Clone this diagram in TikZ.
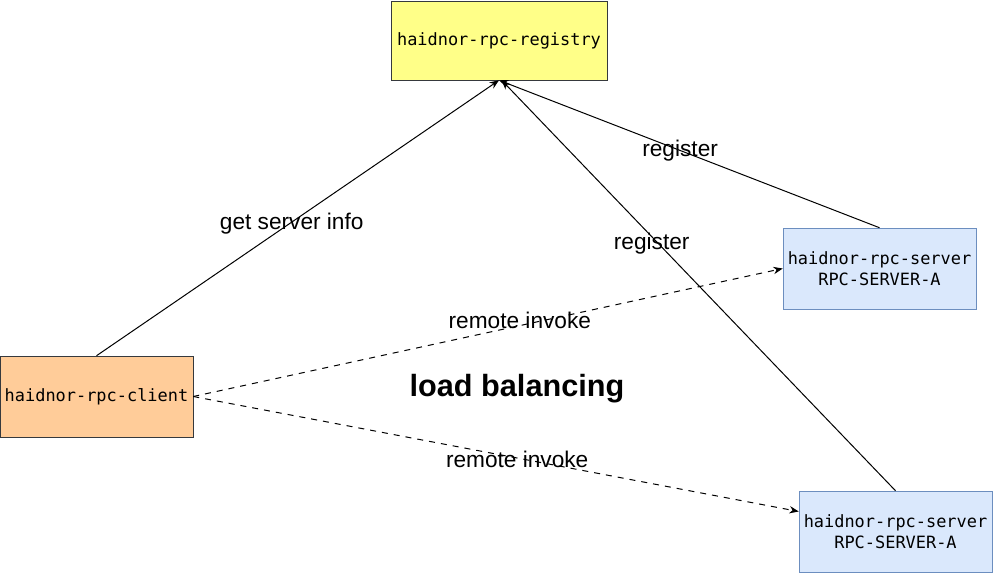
\documentclass[tikz,border=0pt]{standalone}
\usepackage{fontspec}
\setmainfont{Liberation Sans}
\setmonofont{DejaVu Sans Mono}
\usepackage{xcolor}
\usetikzlibrary{arrows.meta}

\definecolor{regfill}{HTML}{FFFF88}
\definecolor{clifill}{HTML}{FFCC99}
\definecolor{srvfill}{HTML}{DAE8FC}
\definecolor{srvline}{HTML}{6C8EBF}
\definecolor{boxline}{HTML}{36393D}

\begin{document}
\begin{tikzpicture}[x=0.75pt,y=-0.75pt,
            box/.style={shape=rectangle, draw=boxline, inner sep=0pt, align=center,
                minimum width=144.75pt, minimum height=60.75pt,
                font=\ttfamily\fontsize{12.7}{15.5}\selectfont},
            srv/.style={box, fill=srvfill, draw=srvline},
            lbl/.style={font=\fontsize{17}{20}\selectfont},
            link/.style={line width=0.75pt, -{Stealth[length=7pt,width=5.5pt]}},
            call/.style={link, dash pattern=on 4.5pt off 4.5pt}]
        \useasboundingbox (0,0) rectangle (994,574);

        \node[box, fill=regfill, minimum width=162pt, minimum height=59.25pt] (registry) at (499,40.5) {haidnor-rpc-registry};
        \node[box, fill=clifill] (client) at (96.5,396.5) {haidnor-rpc-client};
        \node[srv] (srva) at (879.5,268.5) {haidnor-rpc-server\\RPC-SERVER-A};
        \node[srv] (srvb) at (895.5,531.5) {haidnor-rpc-server\\RPC-SERVER-A};

        \draw[link] (client.north) -- node[lbl, pos=0.485, yshift=-1pt]{get server info} (registry.south);
        \draw[link] (srva.north) -- node[lbl, pos=0.524]{register} (registry.south);
        \draw[link] (srvb.north) -- node[lbl, pos=0.619, yshift=-5pt]{register} ([xshift=2pt]registry.south);

        \draw[call] (client.east) -- node[lbl, pos=0.554, yshift=4pt]{remote invoke} (srva.west);
        \draw[call] (client.east) -- node[lbl, pos=0.535, yshift=-1pt]{remote invoke} ([yshift=15pt]srvb.west);

        \node[font=\bfseries\fontsize{23}{28}\selectfont] (balance) at (517,389) {load balancing};
    \end{tikzpicture}
\end{document}
